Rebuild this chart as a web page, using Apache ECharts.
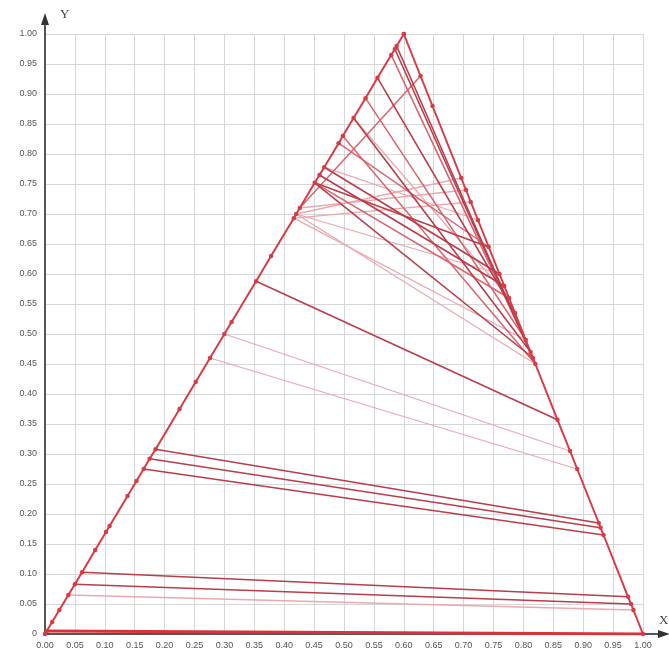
<!DOCTYPE html>
<html>
<head>
<meta charset="utf-8">
<script src="https://cdn.jsdelivr.net/npm/echarts@6/dist/echarts.min.js"></script>
<style>
  html, body { margin: 0; padding: 0; background: #ffffff; }
  #chart { width: 669px; height: 652px; }
</style>
</head>
<body>
<div id="chart"></div>
<script>
// Left branch of the binodal curve (points along the rising edge)
const leftBranchX = [0, 0.003, 0.012, 0.024, 0.039, 0.050, 0.062, 0.084, 0.102, 0.108, 0.138, 0.153, 0.165, 0.175, 0.185,
  0.225, 0.252, 0.276, 0.300, 0.312, 0.353, 0.378, 0.416, 0.420, 0.426, 0.451, 0.459, 0.467, 0.491, 0.498, 0.516,
  0.536, 0.556, 0.579, 0.585, 0.588, 0.600];
const leftBranchY = [0, 0.005, 0.020, 0.040, 0.065, 0.083, 0.103, 0.140, 0.170, 0.180, 0.230, 0.255, 0.275, 0.292, 0.308,
  0.375, 0.420, 0.460, 0.500, 0.520, 0.588, 0.630, 0.693, 0.700, 0.710, 0.752, 0.765, 0.778, 0.818, 0.830, 0.860,
  0.893, 0.927, 0.965, 0.975, 0.980, 1.000];

// Right branch of the binodal curve (points along the falling edge)
const rightBranchX = [0.600, 0.628, 0.648, 0.696, 0.704, 0.712, 0.724, 0.742, 0.760, 0.768, 0.776, 0.786, 0.804, 0.812,
  0.816, 0.820, 0.857, 0.878, 0.890, 0.926, 0.929, 0.934, 0.975, 0.980, 0.984, 1.000];
const rightBranchY = [1.000, 0.930, 0.880, 0.760, 0.740, 0.720, 0.690, 0.645, 0.600, 0.580, 0.560, 0.535, 0.490, 0.470,
  0.460, 0.450, 0.357, 0.305, 0.275, 0.185, 0.177, 0.165, 0.062, 0.050, 0.040, 0];

// Tie lines, as [left-branch y, right-branch y]
const tieBase = [[0.005, 0]];
const tieDark = [[0.103, 0.062], [0.083, 0.050], [0.308, 0.185], [0.292, 0.177], [0.275, 0.165], [0.588, 0.357],
  [0.778, 0.600], [0.765, 0.580], [0.752, 0.460], [0.975, 0.460], [0.980, 0.450], [0.927, 0.535], [0.860, 0.470],
  [0.752, 0.645]];
const tieMid = [[0.710, 0.930], [0.830, 0.450], [0.818, 0.645], [0.893, 0.490], [0.965, 0.470], [0.752, 0.560]];
const tieLight = [[0.700, 0.760], [0.710, 0.740], [0.693, 0.720], [0.500, 0.305], [0.460, 0.275], [0.065, 0.040],
  [0.693, 0.490], [0.700, 0.450], [0.778, 0.690], [0.860, 0.560], [0.965, 0.490], [0.700, 0.600]];

// Axis tick labels
const xTickLabels = ['0.00', '0.05', '0.10', '0.15', '0.20', '0.25', '0.30', '0.35', '0.40', '0.45', '0.50',
  '0.55', '0.60', '0.65', '0.70', '0.75', '0.80', '0.85', '0.90', '0.95', '1.00'];
const yTickLabels = ['0', '0.05', '0.10', '0.15', '0.20', '0.25', '0.30', '0.35', '0.40', '0.45', '0.50',
  '0.55', '0.60', '0.65', '0.70', '0.75', '0.80', '0.85', '0.90', '0.95', '1.00'];

function pointOnLeft(y) { const i = leftBranchY.indexOf(y); return [leftBranchX[i], leftBranchY[i]]; }
function pointOnRight(y) { const i = rightBranchY.indexOf(y); return [rightBranchX[i], rightBranchY[i]]; }
function tieData(list) { return list.map(p => ({ coords: [pointOnLeft(p[0]), pointOnRight(p[1])] })); }

const chart = echarts.init(document.getElementById('chart'), null, { renderer: 'canvas' });
const labelFont = { fontFamily: 'Liberation Sans, DejaVu Sans, sans-serif', fontSize: 9, color: '#555' };

chart.setOption({
  animation: false,
  backgroundColor: '#ffffff',
  grid: { left: 45, top: 34, width: 598, height: 600, containLabel: false },
  xAxis: {
    type: 'value', min: 0, max: 1, interval: 0.05,
    axisLine: { show: true, onZero: false, lineStyle: { color: '#555', width: 2 } },
    axisTick: { show: false },
    splitLine: { show: true, lineStyle: { color: '#d6d6d6', width: 1 } },
    axisLabel: Object.assign({ margin: 7, formatter: v => xTickLabels[Math.round(v / 0.05)] }, labelFont)
  },
  yAxis: {
    type: 'value', min: 0, max: 1, interval: 0.05,
    axisLine: { show: true, onZero: false, lineStyle: { color: '#555', width: 2 } },
    axisTick: { show: false },
    splitLine: { show: true, lineStyle: { color: '#d6d6d6', width: 1 } },
    axisLabel: Object.assign({ margin: 8, formatter: v => yTickLabels[Math.round(v / 0.05)] }, labelFont)
  },
  series: [
    {
      type: 'lines', coordinateSystem: 'cartesian2d', z: 2,
      lineStyle: { color: '#eaa9b0', width: 1.3, opacity: 1 },
      data: tieData(tieLight)
    },
    {
      type: 'lines', coordinateSystem: 'cartesian2d', z: 3,
      lineStyle: { color: '#d9646f', width: 1.5, opacity: 1 },
      data: tieData(tieMid)
    },
    {
      type: 'lines', coordinateSystem: 'cartesian2d', z: 4,
      lineStyle: { color: '#b73e4a', width: 1.6, opacity: 1 },
      data: tieData(tieDark)
    },
    {
      type: 'lines', coordinateSystem: 'cartesian2d', z: 4,
      lineStyle: { color: '#d8323c', width: 3, opacity: 1 },
      data: tieData(tieBase)
    },
    {
      type: 'line', z: 5,
      data: leftBranchX.map((x, i) => [x, leftBranchY[i]]),
      symbol: 'circle', symbolSize: 4.5, showSymbol: true,
      lineStyle: { color: '#d73c46', width: 2 },
      itemStyle: { color: '#d73c46' }
    },
    {
      type: 'line', z: 5,
      data: rightBranchX.map((x, i) => [x, rightBranchY[i]]),
      symbol: 'circle', symbolSize: 4.5, showSymbol: true,
      lineStyle: { color: '#d73c46', width: 2 },
      itemStyle: { color: '#d73c46' }
    }
  ]
});

// Arrow-headed axis extensions and axis names
const origin = chart.convertToPixel({ gridIndex: 0 }, [0, 0]);
const xEnd = chart.convertToPixel({ gridIndex: 0 }, [1, 0]);
const yEnd = chart.convertToPixel({ gridIndex: 0 }, [0, 1]);
const axisColor = '#333';
chart.setOption({
  graphic: [
    { type: 'line', shape: { x1: xEnd[0], y1: origin[1], x2: xEnd[0] + 18, y2: origin[1] },
      style: { stroke: '#555', lineWidth: 2 } },
    { type: 'polygon', shape: { points: [[xEnd[0] + 27, origin[1]], [xEnd[0] + 15, origin[1] - 4], [xEnd[0] + 15, origin[1] + 4]] },
      style: { fill: axisColor } },
    { type: 'line', shape: { x1: origin[0], y1: yEnd[1], x2: origin[0], y2: yEnd[1] - 12 },
      style: { stroke: '#555', lineWidth: 2 } },
    { type: 'polygon', shape: { points: [[origin[0], yEnd[1] - 21], [origin[0] - 4, yEnd[1] - 9], [origin[0] + 4, yEnd[1] - 9]] },
      style: { fill: axisColor } },
    { type: 'text', x: origin[0] + 15, y: yEnd[1] - 26,
      style: { text: 'Y', font: '13px "Liberation Serif", "DejaVu Serif", serif', fill: '#444' } },
    { type: 'text', x: xEnd[0] + 16, y: origin[1] - 20,
      style: { text: 'X', font: '13px "Liberation Serif", "DejaVu Serif", serif', fill: '#444' } }
  ]
});
</script>
</body>
</html>
